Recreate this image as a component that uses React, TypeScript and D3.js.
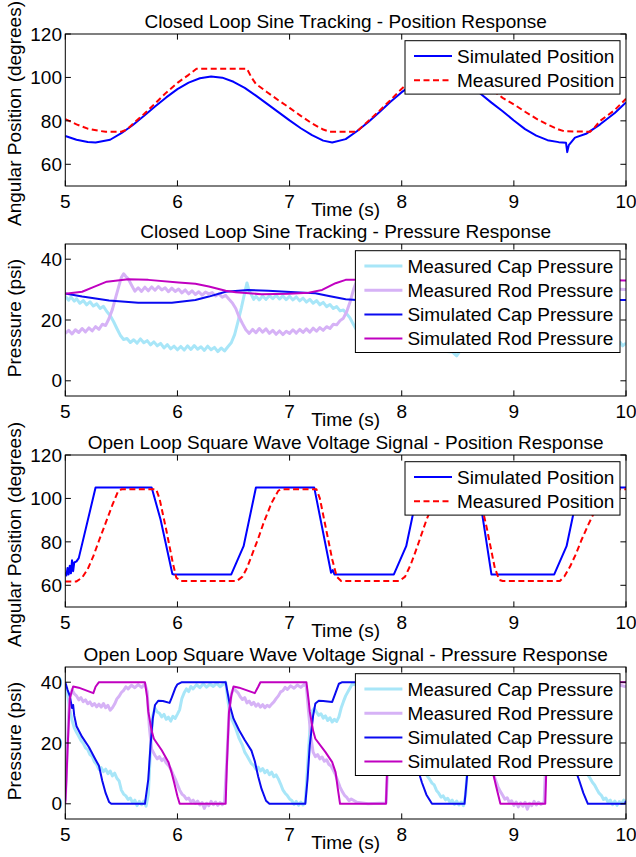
import React, { useEffect, useRef } from 'react';
import * as d3 from 'd3';

type Pt = [number, number];

const timeTicks = [5, 6, 7, 8, 9, 10];
const positionTicks = [60, 80, 100, 120];
const pressureTicks = [0, 20, 40];

// closed loop sine - position
const sinePosSim: Pt[] = [[5.0, 73.0], [5.1, 71.3], [5.2, 70.3], [5.27, 70.0], [5.4, 71.3], [5.5, 74.3], [5.6, 78], [5.7, 82.2], [5.8, 86.6], [5.9, 90.8], [6.0, 94.6], [6.1, 97.6], [6.2, 99.6], [6.3, 100.4], [6.4, 99.9], [6.5, 98], [6.6, 95.2], [6.7, 91.6], [6.8, 87.8], [6.9, 84], [7.0, 80.2], [7.1, 76.6], [7.2, 73.4], [7.3, 70.9], [7.38, 70.0], [7.5, 71.6], [7.6, 75.2], [7.7, 79.4], [7.8, 84], [7.9, 88.8], [8.0, 93.2], [8.1, 96.8], [8.2, 99.2], [8.3, 100.3], [8.4, 100.1], [8.5, 98.6], [8.6, 96], [8.7, 92.6], [8.8, 88.4], [8.9, 84.4], [9.0, 80.2], [9.1, 76.2], [9.2, 73.2], [9.3, 71.1], [9.4, 70.2], [9.465, 69.9], [9.476, 65.6], [9.49, 68.8], [9.545, 72.3], [9.65, 74.2], [9.77, 78.4], [9.9, 83.6], [10.0, 88.5]];
const sinePosMeas: Pt[] = [[5.0, 80.8], [5.1, 78.4], [5.2, 76.4], [5.3, 75.4], [5.36, 75], [5.5, 75], [5.55, 76], [5.6, 78.5], [5.7, 83], [5.8, 88], [5.9, 93], [6.0, 97.5], [6.1, 101.2], [6.17, 104], [6.62, 104], [6.66, 100], [6.70, 97], [6.8, 93.2], [6.9, 89.5], [7.0, 86], [7.1, 82.3], [7.2, 78.8], [7.3, 76], [7.36, 75], [7.6, 75], [7.65, 77.5], [7.7, 79.8], [7.8, 84.6], [7.9, 89.6], [8.0, 94.8], [8.1, 99.4], [8.2, 102.8], [8.26, 104], [8.7, 104], [8.76, 97], [8.8, 94.6], [8.9, 90.6], [9.0, 87.6], [9.1, 84.2], [9.2, 81], [9.3, 78.3], [9.4, 76], [9.45, 75.2], [9.68, 75], [9.72, 77], [9.77, 80], [9.9, 85], [10, 90.2]];

// closed loop sine - pressure
const sineCapMeas: Pt[] = [[5.0, 27.8], [5.03, 26.5], [5.05, 27.6], [5.08, 26.2], [5.1, 27], [5.13, 25.5], [5.16, 26.4], [5.19, 25], [5.22, 26], [5.25, 24.6], [5.28, 25.3], [5.31, 23.8], [5.34, 24.5], [5.37, 22.8], [5.4, 21.5], [5.43, 19.5], [5.46, 17.2], [5.49, 15], [5.52, 13.6], [5.55, 13.9], [5.58, 12.6], [5.61, 13.5], [5.64, 12.4], [5.67, 13.8], [5.7, 12.5], [5.73, 13.2], [5.76, 11.8], [5.79, 12.8], [5.82, 11.5], [5.85, 12.3], [5.88, 10.8], [5.91, 11.9], [5.94, 10.5], [5.97, 11.4], [6.0, 10.2], [6.03, 11.3], [6.06, 10.1], [6.09, 11.5], [6.12, 10.3], [6.15, 11.6], [6.18, 10.4], [6.21, 11.2], [6.24, 10.0], [6.27, 11.4], [6.3, 10.2], [6.33, 11.0], [6.36, 9.6], [6.39, 10.8], [6.42, 9.8], [6.45, 11.2], [6.48, 12.5], [6.51, 15.2], [6.54, 19.5], [6.57, 24], [6.6, 29], [6.62, 32.2], [6.64, 29.5], [6.66, 28.3], [6.68, 26.8], [6.7, 27.8], [6.73, 26.6], [6.76, 27.9], [6.79, 26.8], [6.82, 28], [6.85, 27], [6.88, 28.1], [6.91, 26.9], [6.94, 27.9], [6.97, 26.7], [7.0, 27.8], [7.03, 26.6], [7.06, 27.6], [7.09, 26.3], [7.12, 27.2], [7.15, 25.9], [7.18, 26.8], [7.21, 25.5], [7.24, 26.4], [7.27, 25], [7.3, 25.8], [7.33, 24.4], [7.36, 25.1], [7.39, 23.8], [7.42, 24.4], [7.45, 23], [7.48, 23.3], [7.51, 22], [7.54, 20.6], [7.57, 18.5], [7.6, 16.5], [7.65, 13.5], [7.7, 12], [7.9, 11], [8.1, 10.5], [8.3, 10], [8.45, 9.5], [8.49, 8.2], [8.52, 9.8], [8.6, 14], [8.7, 26], [8.8, 28], [9.2, 27], [9.5, 24], [9.7, 18], [9.9, 13], [9.95, 12.6], [9.97, 11.5], [10, 12.4]];
const sineRodMeas: Pt[] = [[5.0, 15.6], [5.03, 16.6], [5.06, 15.4], [5.09, 16.8], [5.12, 15.9], [5.15, 17.2], [5.18, 16.1], [5.21, 17.4], [5.24, 16.4], [5.27, 17.8], [5.3, 16.9], [5.33, 18.6], [5.36, 18.2], [5.39, 20.5], [5.42, 23.5], [5.45, 27.5], [5.48, 31.5], [5.5, 34], [5.52, 35.2], [5.54, 34.3], [5.56, 33.6], [5.59, 31.5], [5.62, 29.5], [5.65, 30.6], [5.68, 29.4], [5.71, 30.8], [5.74, 29.6], [5.77, 30.9], [5.8, 29.8], [5.83, 31], [5.86, 29.9], [5.89, 30.6], [5.92, 29.3], [5.95, 30.5], [5.98, 29.4], [6.01, 30.2], [6.04, 28.9], [6.07, 29.9], [6.1, 28.6], [6.13, 29.6], [6.16, 28.4], [6.19, 29.3], [6.22, 28.2], [6.25, 29.2], [6.28, 28.6], [6.31, 29], [6.34, 27.9], [6.37, 28.6], [6.4, 27.5], [6.43, 28.1], [6.46, 26.8], [6.49, 25.6], [6.52, 23.8], [6.55, 21], [6.58, 18.8], [6.61, 16.8], [6.64, 15.6], [6.67, 16.9], [6.7, 15.8], [6.73, 17.2], [6.76, 16], [6.79, 17.1], [6.82, 15.6], [6.85, 16.6], [6.88, 15.3], [6.91, 16.4], [6.94, 15.2], [6.97, 16.3], [7.0, 15.6], [7.03, 16.8], [7.06, 15.7], [7.09, 16.9], [7.12, 15.9], [7.15, 17.1], [7.18, 16], [7.21, 17.3], [7.24, 16.3], [7.27, 17.5], [7.3, 16.6], [7.33, 17.8], [7.36, 17.2], [7.39, 18.6], [7.42, 18.4], [7.45, 19.8], [7.48, 20.6], [7.51, 22.8], [7.54, 26], [7.57, 30], [7.6, 33], [7.65, 32], [7.7, 30.5], [8.0, 30], [8.3, 29], [8.5, 27.5], [8.6, 23], [8.7, 17.5], [9.0, 16], [9.4, 17.5], [9.5, 20], [9.6, 28], [9.7, 30.5], [10, 30]];
const sineCapSim: Pt[] = [[5.0, 28.7], [5.15, 27.7], [5.39, 26.4], [5.65, 25.7], [5.95, 25.7], [6.16, 26.6], [6.28, 27.7], [6.43, 29.3], [6.63, 29.9], [6.81, 29.6], [7.05, 29.1], [7.23, 28.8], [7.35, 27.9], [7.5, 26.8], [7.6, 26.6], [7.8, 26.4], [8.1, 25.8], [8.3, 26], [8.5, 27.5], [8.7, 29.5], [9.0, 29.5], [9.3, 28.8], [9.5, 27.5], [9.7, 26.7], [10, 26.6]];
const sineRodSim: Pt[] = [[5.0, 28.6], [5.15, 29.3], [5.25, 30.8], [5.37, 32.6], [5.56, 33.4], [5.74, 33.2], [6.01, 32.3], [6.16, 31.9], [6.28, 31], [6.43, 29.6], [6.52, 29.1], [6.75, 28.5], [6.99, 28.6], [7.17, 29], [7.29, 29.9], [7.41, 32.1], [7.5, 33.2], [7.9, 33.2], [8.2, 32.4], [8.5, 30], [8.7, 28.6], [9.1, 28.6], [9.3, 29.5], [9.5, 32.5], [9.6, 33.2], [10, 33]];

// open loop square wave - position
const squarePosSim: Pt[] = [[5.0, 66], [5.01, 64.5], [5.02, 68], [5.03, 65], [5.04, 69], [5.05, 65.5], [5.06, 71.5], [5.07, 66.5], [5.08, 70.5], [5.1, 71], [5.12, 72.5], [5.27, 105], [5.77, 105], [5.85, 90.2], [5.955, 65.2], [5.97, 65], [6.48, 65], [6.59, 78], [6.70, 105], [7.22, 105], [7.37, 65.8], [7.385, 67], [7.40, 65], [7.93, 65], [8.04, 78], [8.15, 105], [8.64, 105], [8.72, 92], [8.80, 65], [9.36, 65], [9.47, 78], [9.58, 105], [10, 105]];
const squarePosMeas: Pt[] = [[5.0, 61.8], [5.1, 61.8], [5.15, 63.5], [5.2, 67.5], [5.25, 73.4], [5.3, 80.5], [5.36, 88.7], [5.42, 97], [5.47, 103.2], [5.5, 104.2], [5.81, 104.2], [5.84, 100], [5.90, 85.6], [5.96, 70], [5.99, 63.5], [6.03, 62], [6.53, 62], [6.58, 64], [6.62, 68], [6.66, 73.4], [6.72, 81.5], [6.77, 89], [6.84, 98], [6.9, 103.6], [6.93, 104.2], [7.24, 104.2], [7.27, 100], [7.31, 89.8], [7.38, 72], [7.42, 64], [7.46, 62], [7.98, 62], [8.03, 64], [8.08, 69.5], [8.13, 76.5], [8.22, 90], [8.3, 100], [8.36, 104.2], [8.67, 104.2], [8.70, 100], [8.76, 86], [8.83, 68], [8.87, 62.5], [8.9, 62], [9.41, 62], [9.45, 64], [9.5, 68.5], [9.55, 74], [9.6, 80.5], [9.66, 87.5], [9.72, 94], [9.78, 100], [9.83, 103.6], [9.86, 104.2], [10, 104.2]];

// open loop square wave - pressure
const squareCapMeas: Pt[] = [[5.0, 39], [5.02, 36], [5.04, 31], [5.06, 27.5], [5.08, 25], [5.1, 23.5], [5.12, 22.2], [5.14, 20.8], [5.16, 19.9], [5.18, 18.4], [5.2, 17.8], [5.22, 16.2], [5.24, 15.6], [5.26, 13.8], [5.28, 12.9], [5.3, 11.3], [5.32, 11.9], [5.34, 10.6], [5.36, 11.4], [5.38, 9.9], [5.4, 10.8], [5.42, 9.2], [5.44, 10.1], [5.46, 8.4], [5.48, 7.5], [5.5, 4.5], [5.52, 3.2], [5.54, 2.6], [5.56, 1.4], [5.58, 1.9], [5.6, 0.4], [5.62, 1.2], [5.64, -0.6], [5.66, 0.8], [5.68, -0.3], [5.7, 0.9], [5.72, -0.8], [5.74, 3], [5.76, 18], [5.78, 29], [5.8, 31.4], [5.82, 30.2], [5.84, 29.8], [5.86, 28.6], [5.88, 29.4], [5.9, 27.8], [5.92, 28.5], [5.94, 27.2], [5.96, 28.8], [5.98, 28.1], [6.0, 29.5], [6.02, 31], [6.04, 34.7], [6.06, 36.5], [6.08, 37.8], [6.1, 36.9], [6.12, 38.6], [6.14, 37.8], [6.17, 39.2], [6.2, 38.2], [6.23, 39.5], [6.26, 38.4], [6.29, 39.4], [6.32, 38.6], [6.35, 39.6], [6.38, 38.5], [6.41, 39.4], [6.43, 40], [6.45, 34], [6.47, 29], [6.5, 26.5], [6.52, 24.8], [6.55, 21.5], [6.58, 19.2], [6.6, 17], [6.62, 15.8], [6.64, 14.5], [6.66, 13.2], [6.68, 12.6], [6.7, 11.4], [6.72, 12.1], [6.74, 10.8], [6.76, 11.6], [6.78, 10.2], [6.8, 11], [6.82, 9.6], [6.84, 10.4], [6.86, 8.9], [6.88, 9.5], [6.9, 8.2], [6.92, 6.5], [6.94, 4.6], [6.96, 3.5], [6.98, 2.7], [7.0, 1.6], [7.02, 1.1], [7.04, -0.2], [7.06, 0.8], [7.08, -0.5], [7.1, 0.6], [7.12, -0.4], [7.14, 0.5], [7.16, 12], [7.18, 24], [7.2, 30.5], [7.22, 31.4], [7.24, 30.2], [7.26, 29.1], [7.28, 29.6], [7.3, 28.2], [7.32, 28.9], [7.34, 27.4], [7.36, 28.3], [7.38, 26.9], [7.4, 27.8], [7.42, 27.1], [7.44, 28.6], [7.46, 31.5], [7.48, 33.6], [7.5, 35.5], [7.53, 37.5], [7.56, 39.5], [7.6, 39], [7.8, 39.5], [7.86, 40], [7.9, 32], [8.0, 24], [8.1, 16], [8.2, 10.5], [8.25, 8], [8.27, 6.8], [8.29, 6.2], [8.31, 4.4], [8.33, 3.5], [8.35, 2.2], [8.37, 2.6], [8.39, 1.3], [8.41, 1.8], [8.43, 0.5], [8.45, 1.2], [8.47, -0.2], [8.49, 0.9], [8.51, -0.4], [8.53, 0.6], [8.55, -0.6], [8.57, 3], [8.6, 20], [8.65, 32], [8.8, 30], [8.9, 36], [9.29, 40], [9.35, 30], [9.45, 20], [9.55, 13], [9.62, 10.5], [9.66, 9.5], [9.68, 8.4], [9.7, 7.1], [9.72, 6.2], [9.74, 4.8], [9.76, 3.5], [9.78, 2.8], [9.8, 1.4], [9.82, 1.9], [9.84, 0.5], [9.86, 1.2], [9.88, -0.3], [9.9, 0.9], [9.92, -0.5], [9.94, 0.7], [9.96, 0.1], [9.98, 1.2], [10, 0.8]];
const squareRodMeas: Pt[] = [[5.0, 1], [5.02, 20], [5.03, 30], [5.04, 34.7], [5.06, 37.5], [5.08, 36.2], [5.1, 35.5], [5.12, 34.2], [5.14, 34.9], [5.16, 33.6], [5.18, 34.2], [5.2, 32.9], [5.22, 33.5], [5.24, 32.3], [5.26, 33], [5.28, 31.9], [5.3, 32.8], [5.32, 31.8], [5.34, 33], [5.36, 31.6], [5.38, 32.4], [5.4, 30.8], [5.42, 31.6], [5.44, 32.8], [5.46, 34.5], [5.48, 35.4], [5.5, 36.6], [5.52, 37.3], [5.54, 38.5], [5.56, 37.8], [5.59, 39], [5.62, 38.2], [5.65, 39.2], [5.68, 38.3], [5.71, 39.4], [5.73, 37], [5.75, 25], [5.77, 18], [5.8, 15.9], [5.82, 14.8], [5.84, 15.5], [5.86, 14.2], [5.88, 14.9], [5.9, 13.4], [5.92, 12.6], [5.94, 11.5], [5.96, 9.8], [5.98, 8.2], [6.0, 6.3], [6.02, 4.5], [6.04, 3.2], [6.06, 2.6], [6.08, 1.5], [6.1, 1.9], [6.12, 0.6], [6.14, 1.2], [6.16, 0.1], [6.18, 0.9], [6.2, -0.4], [6.22, 0.4], [6.24, -1.5], [6.26, 0.2], [6.28, -0.6], [6.3, 0.8], [6.32, -0.3], [6.34, 0.6], [6.36, -0.5], [6.38, 0.4], [6.4, -0.3], [6.42, 0.5], [6.44, 14], [6.46, 30], [6.48, 36], [6.5, 38], [6.52, 37.2], [6.54, 36.5], [6.56, 35.2], [6.58, 34.3], [6.6, 34.9], [6.62, 33.2], [6.64, 33.8], [6.66, 32.6], [6.68, 33.4], [6.7, 32.1], [6.72, 32.9], [6.74, 31.8], [6.76, 32.6], [6.78, 31.6], [6.8, 32.4], [6.82, 31.9], [6.84, 32.8], [6.86, 33.5], [6.88, 34.6], [6.9, 35.5], [6.92, 36.8], [6.94, 37.2], [6.96, 38.3], [6.98, 37.6], [7.01, 38.8], [7.04, 38], [7.07, 39.1], [7.1, 38.3], [7.13, 39.3], [7.15, 38.5], [7.17, 30], [7.19, 22], [7.21, 17], [7.23, 15.5], [7.25, 16.2], [7.27, 14.8], [7.29, 15.4], [7.31, 14], [7.33, 14.5], [7.35, 13], [7.37, 12.4], [7.39, 11], [7.41, 9.5], [7.43, 7.5], [7.45, 5.5], [7.47, 4], [7.49, 2.8], [7.51, 2.1], [7.53, 1], [7.55, 1.6], [7.6, 0.5], [7.7, 0], [7.86, 0.3], [7.9, 30], [8.0, 34], [8.2, 32], [8.3, 36], [8.58, 39], [8.62, 20], [8.7, 15], [8.78, 12], [8.82, 9.5], [8.84, 7.5], [8.86, 5.5], [8.88, 4], [8.9, 2.8], [8.92, 1.5], [8.94, 2], [8.96, 0.4], [8.98, 1], [9.0, -0.5], [9.02, 0.6], [9.04, -1], [9.06, 0.3], [9.08, -0.8], [9.1, 0.5], [9.12, -1.8], [9.14, 0.2], [9.16, -0.6], [9.18, 0.8], [9.2, -0.4], [9.22, 0.5], [9.24, -0.2], [9.27, 0.4], [9.3, 30], [9.4, 34], [9.6, 32], [9.7, 36], [9.95, 39], [10, 38.5]];
const squareCapSim: Pt[] = [[5.0, 40], [5.02, 37.5], [5.04, 35.5], [5.05, 33.5], [5.06, 31.5], [5.07, 32.5], [5.08, 29], [5.1, 25.5], [5.15, 22], [5.21, 18.7], [5.27, 14.5], [5.3, 12.5], [5.33, 7.5], [5.36, 3.5], [5.39, 0.6], [5.41, 0], [5.71, 0], [5.74, 8], [5.76, 19.2], [5.78, 28], [5.80, 32.5], [5.83, 33.9], [5.87, 33.8], [5.93, 33.2], [5.95, 35], [5.98, 38], [6.0, 39.3], [6.04, 40], [6.43, 40], [6.45, 36], [6.47, 32], [6.50, 28], [6.55, 24.2], [6.60, 21], [6.66, 17.5], [6.69, 14], [6.72, 9], [6.75, 4.9], [6.79, 1], [6.82, 0], [7.14, 0], [7.16, 8], [7.18, 19.2], [7.21, 29], [7.23, 33], [7.26, 33.9], [7.3, 33.8], [7.38, 33.5], [7.40, 35.5], [7.44, 39.5], [7.47, 40], [7.86, 40], [7.88, 36], [7.9, 32], [7.93, 28], [8.0, 23.5], [8.08, 18], [8.13, 13], [8.18, 7], [8.22, 3], [8.27, 0], [8.56, 0], [8.58, 8], [8.61, 20], [8.64, 33], [8.7, 33.8], [8.8, 33.5], [8.86, 39], [8.9, 40], [9.29, 40], [9.32, 32], [9.38, 25], [9.45, 19], [9.52, 14], [9.58, 8], [9.62, 3.5], [9.66, 0], [9.99, 0], [10, 1]];
const squareRodSim: Pt[] = [[5.0, 0], [5.01, 8], [5.02, 18], [5.035, 30], [5.04, 34.7], [5.07, 38.6], [5.12, 38.2], [5.25, 36.4], [5.27, 38.5], [5.30, 40], [5.71, 40], [5.73, 35], [5.74, 30.3], [5.77, 24], [5.79, 21.4], [5.86, 17.6], [5.92, 13.7], [5.95, 10], [5.97, 7.1], [6.0, 2.5], [6.02, 0], [6.43, 0], [6.44, 12], [6.46, 30.3], [6.48, 35.5], [6.50, 38.6], [6.55, 38.2], [6.69, 36.4], [6.72, 38.5], [6.74, 40], [7.15, 40], [7.17, 34], [7.18, 30.3], [7.21, 24], [7.23, 21.4], [7.32, 17], [7.38, 13.7], [7.41, 10.4], [7.43, 5], [7.45, 0], [7.86, 0], [7.87, 12], [7.89, 30], [7.92, 38.5], [8.12, 36.4], [8.17, 40], [8.58, 40], [8.6, 31], [8.65, 22], [8.75, 16], [8.8, 12.5], [8.84, 6], [8.88, 0], [9.28, 0], [9.29, 12], [9.31, 30], [9.34, 38.5], [9.54, 36.4], [9.59, 40], [10, 40]];

const FONT = "'Liberation Sans', Arial, Helvetica, sans-serif";
const W = 636;
const H = 857;
const plotLeft = 65.3;
const plotRight = 626;
const plotH = 152;
const panelTops = [34, 244, 455, 667];

const posSeries = (sim: Pt[], meas: Pt[]) => [
  { data: sim, label: 'Simulated Position', color: '#0000ff', width: 2, dash: null as string | null },
  { data: meas, label: 'Measured Position', color: '#ff0000', width: 2, dash: '6,3.5' },
];
const presSeries = (cm: Pt[], rm: Pt[], cs: Pt[], rs: Pt[]) => [
  { data: cm, label: 'Measured Cap Pressure', color: '#a8e6f8', width: 3, dash: null as string | null },
  { data: rm, label: 'Measured Rod Pressure', color: '#d6b2f6', width: 3, dash: null },
  { data: cs, label: 'Simulated Cap Pressure', color: '#0a0af0', width: 2, dash: null },
  { data: rs, label: 'Simulated Rod Pressure', color: '#c000c0', width: 2, dash: null },
];

const panels = [
  { title: 'Closed Loop Sine Tracking - Position Response', yLabel: 'Angular Position (degrees)', yDomain: [50, 120], yTicks: positionTicks, series: posSeries(sinePosSim, sinePosMeas), legendW: 215 },
  { title: 'Closed Loop Sine Tracking - Pressure Response', yLabel: 'Pressure (psi)', yDomain: [-5, 45], yTicks: pressureTicks, series: presSeries(sineCapMeas, sineRodMeas, sineCapSim, sineRodSim), legendW: 264.6 },
  { title: 'Open Loop Square Wave Voltage Signal - Position Response', yLabel: 'Angular Position (degrees)', yDomain: [50, 120], yTicks: positionTicks, series: posSeries(squarePosSim, squarePosMeas), legendW: 215 },
  { title: 'Open Loop Square Wave Voltage Signal - Pressure Response', yLabel: 'Pressure (psi)', yDomain: [-5, 45], yTicks: pressureTicks, series: presSeries(squareCapMeas, squareRodMeas, squareCapSim, squareRodSim), legendW: 264.6 },
];

function App() {
  const ref = useRef<SVGSVGElement>(null);

  useEffect(() => {
    const svg = d3.select(ref.current);
    svg.selectAll('*').remove();
    svg.append('rect').attr('width', W).attr('height', H).attr('fill', '#fff');

    const x = d3.scaleLinear().domain([5, 10]).range([plotLeft, plotRight]);

    panels.forEach((p, i) => {
      const top = panelTops[i];
      const bottom = top + plotH;
      const y = d3.scaleLinear().domain(p.yDomain).range([bottom, top]);
      const g = svg.append('g');

      g.append('clipPath').attr('id', `clip${i}`)
        .append('rect')
        .attr('x', plotLeft).attr('y', top)
        .attr('width', plotRight - plotLeft).attr('height', plotH);

      const line = d3.line<Pt>().x(d => x(d[0])).y(d => y(d[1]));
      const lines = g.append('g').attr('clip-path', `url(#clip${i})`);
      p.series.forEach(s => {
        lines.append('path')
          .attr('d', line(s.data))
          .attr('fill', 'none')
          .attr('stroke', s.color)
          .attr('stroke-width', s.width)
          .attr('stroke-linejoin', 'round')
          .attr('stroke-dasharray', s.dash);
      });

      // ticks inside, all four sides
      const tl = 5.6;
      timeTicks.forEach(t => {
        g.append('line').attr('x1', x(t)).attr('x2', x(t)).attr('y1', bottom).attr('y2', bottom - tl).attr('stroke', '#000');
        g.append('line').attr('x1', x(t)).attr('x2', x(t)).attr('y1', top).attr('y2', top + tl).attr('stroke', '#000');
        g.append('text').attr('x', x(t)).attr('y', bottom + 21.5)
          .attr('text-anchor', 'middle').attr('font-family', FONT).attr('font-size', 19).text(t);
      });
      p.yTicks.forEach(v => {
        g.append('line').attr('x1', plotLeft).attr('x2', plotLeft + tl).attr('y1', y(v)).attr('y2', y(v)).attr('stroke', '#000');
        g.append('line').attr('x1', plotRight).attr('x2', plotRight - tl).attr('y1', y(v)).attr('y2', y(v)).attr('stroke', '#000');
        g.append('text').attr('x', 62).attr('y', y(v)).attr('dy', '0.35em')
          .attr('text-anchor', 'end').attr('font-family', FONT).attr('font-size', 19).text(v);
      });

      g.append('rect')
        .attr('x', plotLeft).attr('y', top)
        .attr('width', plotRight - plotLeft).attr('height', plotH)
        .attr('fill', 'none').attr('stroke', '#000').attr('stroke-width', 1);

      g.append('text').attr('x', (plotLeft + plotRight) / 2).attr('y', top - 6)
        .attr('text-anchor', 'middle').attr('font-family', FONT).attr('font-size', 19).text(p.title);
      g.append('text').attr('x', (plotLeft + plotRight) / 2).attr('y', bottom + 29.5)
        .attr('text-anchor', 'middle').attr('font-family', FONT).attr('font-size', 19).text('Time (s)');
      const labelShift = p.yLabel.length > 20 ? 3.5 : -2;
      g.append('text')
        .attr('transform', `translate(21,${(top + bottom) / 2 + labelShift}) rotate(-90)`)
        .attr('text-anchor', 'middle').attr('font-family', FONT).attr('font-size', 19).text(p.yLabel);

      // legend
      const lx = 620 - p.legendW;
      const ly = top + 6.7;
      const rowH = 24.2;
      const lh = p.series.length * rowH + 5;
      const lg = g.append('g');
      lg.append('rect').attr('x', lx).attr('y', ly).attr('width', p.legendW).attr('height', lh)
        .attr('fill', '#fff').attr('stroke', '#000').attr('stroke-width', 1);
      p.series.forEach((s, k) => {
        const ry = ly + 15.3 + k * rowH;
        lg.append('line').attr('x1', lx + 9).attr('x2', lx + 47).attr('y1', ry).attr('y2', ry)
          .attr('stroke', s.color).attr('stroke-width', s.width).attr('stroke-dasharray', s.dash);
        lg.append('text').attr('x', lx + 52).attr('y', ry).attr('dy', '0.35em')
          .attr('font-family', FONT).attr('font-size', 19).text(s.label);
      });
    });
  }, []);

  return (
    <div style={{ position: 'absolute', left: 0, top: 0 }}>
      <svg ref={ref} width={W} height={H}></svg>
    </div>
  );
}

export default App;
